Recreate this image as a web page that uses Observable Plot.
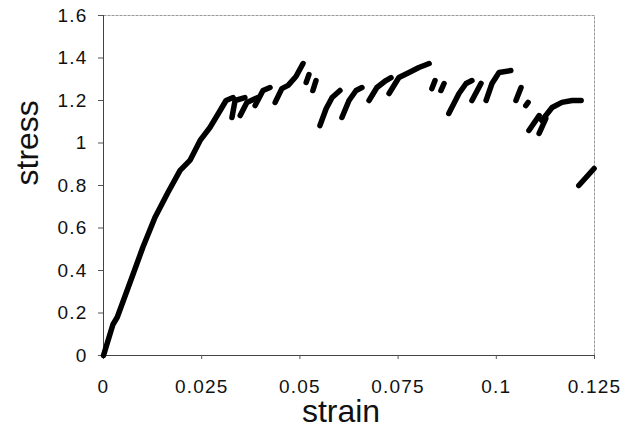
<!DOCTYPE html>
<html><head><meta charset="utf-8">
<script src="https://cdn.jsdelivr.net/npm/d3@7"></script>
<script src="https://cdn.jsdelivr.net/npm/@observablehq/plot@0.6"></script>
<style>body{margin:0;background:#fff} svg{display:block}</style>
</head><body><div id="chart"></div>
<script>
// serrated stress–strain record, one id per continuous run of points
const segment = [
  "A","A","A","A","A","A","A","A","A","A","A","A","A","A",
  "B","B","B",
  "C","C","C",
  "D","D","D",
  "E","E","E","E","E",
  "F","F",
  "G","G",
  "H","H","H","H",
  "I","I","I","I",
  "J","J","J","J",
  "K","K","K","K","K",
  "L","L",
  "M","M",
  "N","N","N","N",
  "O","O",
  "P","P","P","P",
  "Q","Q",
  "R","R",
  "S","S",
  "T","T",
  "U","U","U","U","U",
  "V","V"
];
const strain = [
  0,0.0024,0.0035,0.0075,0.010,0.0131,0.0164,0.0195,0.022,0.0246,0.0271,0.0297,0.0312,0.033,
  0.0327,0.0335,0.036,
  0.0348,0.0365,0.0393,
  0.0386,0.0406,0.0424,
  0.0437,0.0454,0.047,0.049,0.0508,
  0.0516,0.0523,
  0.0533,0.0541,
  0.0551,0.0567,0.0582,0.0602,
  0.0607,0.0625,0.0643,0.0658,
  0.0676,0.0696,0.0719,0.0732,
  0.0727,0.0752,0.0778,0.0803,0.0829,
  0.0836,0.0844,
  0.0859,0.0867,
  0.0879,0.0905,0.0923,0.0938,
  0.0938,0.0961,
  0.0974,0.0989,0.1007,0.1037,
  0.105,0.1063,
  0.1075,0.1081,
  0.1083,0.1109,
  0.1109,0.1126,
  0.1116,0.1142,0.1167,0.1193,0.1216,
  0.121,0.1249
];
const stress = [
  0,0.146,0.18,0.381,0.508,0.649,0.767,0.871,0.918,1.012,1.073,1.153,1.2,1.214,
  1.12,1.2,1.214,
  1.129,1.191,1.214,
  1.176,1.247,1.261,
  1.191,1.256,1.271,1.313,1.374,
  1.285,1.322,
  1.247,1.294,
  1.082,1.162,1.214,1.247,
  1.12,1.2,1.247,1.261,
  1.2,1.261,1.294,1.308,
  1.233,1.308,1.332,1.355,1.374,
  1.256,1.294,
  1.247,1.28,
  1.139,1.233,1.28,1.294,
  1.2,1.28,
  1.2,1.28,1.332,1.341,
  1.2,1.261,
  1.176,1.191,
  1.059,1.129,
  1.045,1.115,
  1.106,1.167,1.191,1.2,1.2,
  0.80,0.88
];
const xTicks = [0, 0.025, 0.05, 0.075, 0.1, 0.125];
const yTicks = [0, 0.2, 0.4, 0.6, 0.8, 1, 1.2, 1.4, 1.6];
const xLabel = "strain";
const yLabel = "stress";

const data = strain.map((s, i) => ({seg: segment[i], strain: s, stress: stress[i]}));

const chart = Plot.plot({
  width: 639, height: 434,
  marginLeft: 103, marginRight: 45, marginTop: 15, marginBottom: 79,
  style: {fontFamily: "'Liberation Sans', Arial, Helvetica, sans-serif", background: "#fff", color: "#111"},
  x: {domain: [0, 0.125], label: null},
  y: {domain: [0, 1.6], label: null},
  marks: [
    Plot.frame({stroke: "#999", strokeDasharray: "3,1"}),
    Plot.ruleX([0], {stroke: "#444"}),
    Plot.ruleY([0], {stroke: "#444"}),
    Plot.axisX({ticks: xTicks, tickFormat: d => String(d), tickSize: 4, tickPadding: 20, fontSize: 19, stroke: "#555", label: null}),
    Plot.axisY({ticks: yTicks, tickFormat: d => String(d), tickSize: 5, tickPadding: 11, fontSize: 19, stroke: "#555", label: null}),
    Plot.line(data, {x: "strain", y: "stress", z: "seg", stroke: "#000", strokeWidth: 5.5, strokeLinecap: "round", strokeLinejoin: "round"}),
    Plot.text([xLabel], {frameAnchor: "bottom", dy: 66, dx: -8, fontSize: 32, fill: "#111", text: d => d}),
    Plot.text([yLabel], {frameAnchor: "left", dx: -76, rotate: -90, fontSize: 32, fill: "#111", text: d => d})
  ]
});
d3.select(chart).selectAll('[aria-label="x-axis tick label"] text, [aria-label="y-axis tick label"] text')
  .style("letter-spacing", "1.2px");
document.getElementById("chart").appendChild(chart);
</script>
</body></html>
